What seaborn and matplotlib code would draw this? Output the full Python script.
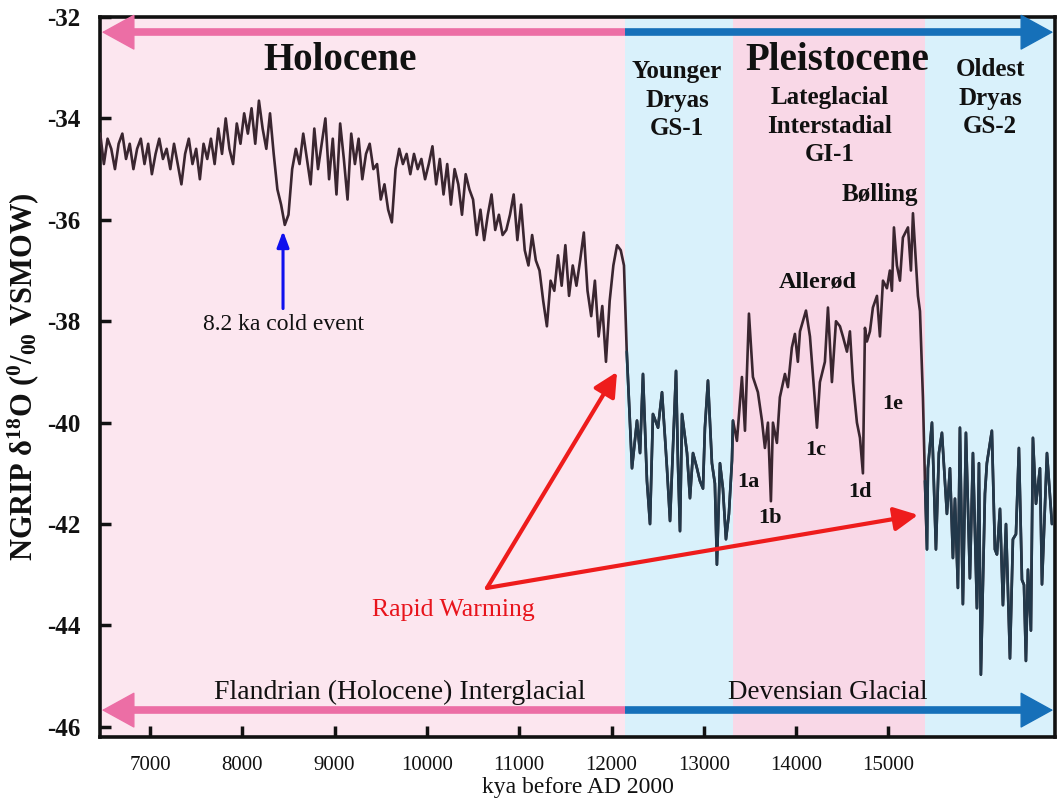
import numpy as np
import pandas as pd
import matplotlib
matplotlib.use("Agg")
import matplotlib.pyplot as plt
import seaborn as sns

# ---------------- data ----------------
holo_years = np.arange(6460, 12101, 40)
holo_vals = [
    -34.3, -34.9, -34.4, -34.6, -35.0, -34.5, -34.3, -34.8, -34.5, -35.0,
    -34.6, -34.4, -34.9, -34.5, -35.1, -34.7, -34.4, -34.8, -34.6, -35.0,
    -34.5, -34.9, -35.3, -34.7, -34.4, -34.9, -34.6, -35.2, -34.5, -34.8,
    -34.4, -34.9, -34.2, -34.7, -34.0, -34.6, -34.9, -34.1, -34.5, -33.9,
    -34.3, -33.8, -34.5, -33.65, -34.2, -34.6, -33.9, -34.7, -35.4, -35.7,
    -36.1, -35.9, -35.0, -34.6, -34.9, -34.3, -34.8, -35.3, -34.2, -35.0,
    -34.5, -34.0, -35.2, -34.4, -35.5, -34.1, -34.8, -35.6, -34.3, -34.9,
    -34.4, -35.2, -34.7, -34.5, -35.0, -34.9, -35.6, -35.3, -35.8, -36.05,
    -35.0, -34.6, -34.9, -34.7, -35.1, -34.7, -35.0, -34.8, -35.2, -34.9,
    -34.55, -35.3, -34.8, -35.5, -34.9, -35.7, -35.0, -35.3, -35.9, -35.1,
    -35.4, -35.6, -36.3, -35.8, -36.4, -35.9, -35.5, -36.2, -35.9, -36.3,
    -36.2, -35.9, -35.5, -36.4, -35.7, -36.6, -36.9, -36.3, -36.8, -37.0,
    -37.6, -38.1, -37.2, -37.4, -36.7, -37.3, -36.5, -37.5, -36.9, -37.3,
    -36.8, -36.25, -37.4, -37.9, -37.2, -38.3, -37.7, -38.8, -37.6, -36.9,
    -36.5, -36.6,
]

yd_years = [12135, 12165, 12195, 12222, 12276, 12309, 12341, 12384, 12417, 12449,
            12504, 12547, 12580, 12601, 12634, 12666, 12699, 12720, 12742, 12764,
            12818, 12850, 12883, 12926, 12958, 12991, 13012, 13045, 13088, 13120,
            13142, 13175, 13207, 13240, 13272, 13305]
yd_vals = [-36.9, -38.6, -39.8, -40.9, -39.96, -40.6, -39.04, -41.15, -42.0, -39.83,
           -40.1, -39.4, -40.3, -40.9, -41.94, -40.5, -38.98, -40.8, -42.14, -39.83,
           -40.6, -41.49, -40.6, -40.9, -41.15, -41.3, -40.1, -39.17, -40.8, -41.2,
           -42.8, -40.8, -41.3, -42.3, -41.8, -40.75]

gi1_years = [13316, 13359, 13413, 13446, 13489, 13532, 13586, 13630, 13662, 13695,
             13727, 13749, 13792, 13824, 13879, 13911, 13954, 13987, 14019, 14042,
             14107, 14150, 14226, 14258, 14312, 14345, 14388, 14432, 14475, 14507,
             14551, 14583, 14616, 14659, 14692, 14724, 14746, 14767, 14800, 14832,
             14876, 14908, 14941, 14984, 15016, 15038, 15060, 15092, 15125, 15157,
             15212, 15244, 15266, 15320, 15342, 15374, 15396]
gi1_vals = [-39.96, -40.36, -39.1, -40.16, -37.85, -39.1, -39.4, -39.96, -40.5, -40.0,
            -41.55, -40.0, -40.4, -39.5, -39.04, -39.3, -38.52, -38.25, -38.8, -38.2,
            -37.79, -38.3, -40.1, -39.2, -38.8, -37.73, -39.2, -38.0, -38.1, -38.3,
            -38.6, -38.2, -39.2, -40.0, -40.3, -41.0, -38.13, -38.4, -38.2, -37.73,
            -37.5, -38.3, -37.2, -37.35, -37.0, -37.4, -36.15, -36.9, -37.2, -36.35,
            -36.15, -37.0, -35.87, -37.5, -37.8, -39.5, -41.15]

gs2_years = [15418, 15428, 15472, 15515, 15547, 15580, 15634, 15667, 15699, 15721,
             15753, 15775, 15807, 15840, 15883, 15916, 15959, 15981, 16002, 16046,
             16067, 16121, 16154, 16176, 16209, 16241, 16274, 16317, 16349, 16382,
             16414, 16447, 16469, 16490, 16512, 16544, 16566, 16599, 16642, 16664,
             16718, 16772]
gs2_vals = [-42.5, -40.9, -40.0, -42.5, -40.6, -40.2, -41.8, -40.9, -42.67, -41.5,
            -43.26, -40.1, -43.58, -40.2, -43.07, -40.6, -43.66, -40.8, -44.97, -41.4,
            -40.8, -40.16, -42.5, -42.6, -41.7, -43.6, -42.0, -44.65, -42.3, -42.2,
            -40.5, -43.1, -43.2, -44.7, -42.9, -44.1, -40.3, -41.6, -40.9, -43.19,
            -40.6, -42.0]

period_bounds = [12146, 13316, 15396]
xticks = [7000, 8000, 9000, 10000, 11000, 12000, 13000, 14000, 15000]
yticks = [-46, -44, -42, -40, -38, -36, -34, -32]

# ---------------- style ----------------
sns.set_theme(style="white")
plt.rcParams['font.family'] = ['Liberation Serif', 'DejaVu Serif']
plt.rcParams['mathtext.fontset'] = 'custom'
plt.rcParams['mathtext.rm'] = 'Liberation Serif:bold'
plt.rcParams['mathtext.it'] = 'Liberation Serif:bold'
plt.rcParams['mathtext.bf'] = 'Liberation Serif:bold'

fig = plt.figure(figsize=(10.57, 8.02), dpi=100)
ax = fig.add_axes([100 / 1057, 65 / 802, 955 / 1057, 720 / 802])
XMIN, XMAX = 6458, 16805
ax.set_xlim(XMIN, XMAX)
ax.set_ylim(-46.2, -32)

pink1 = '#fce6ef'
pink2 = '#f9d8e7'
blue = '#d9f1fb'
ax.axvspan(XMIN, period_bounds[0], color=pink1, lw=0, zorder=0)
ax.axvspan(period_bounds[0], period_bounds[1], color=blue, lw=0, zorder=0)
ax.axvspan(period_bounds[1], period_bounds[2], color=pink2, lw=0, zorder=0)
ax.axvspan(period_bounds[2], XMAX, color=blue, lw=0, zorder=0)

all_years = np.concatenate([holo_years, yd_years, gi1_years, gs2_years])
all_vals = np.concatenate([holo_vals, yd_vals, gi1_vals, gs2_vals])
df = pd.DataFrame({'year': all_years, 'd18O': all_vals})
sns.lineplot(data=df, x='year', y='d18O', ax=ax, color='#3a2630', lw=1.9,
             estimator=None, sort=False, zorder=3)
df_yd = pd.DataFrame({'year': list(yd_years[1:]) + [gi1_years[0]],
                      'd18O': list(yd_vals[1:]) + [gi1_vals[0]]})
sns.lineplot(data=df_yd, x='year', y='d18O', ax=ax, color='#22384a', lw=1.9,
             estimator=None, sort=False, zorder=4)
df_gs = pd.DataFrame({'year': [gi1_years[-1]] + list(gs2_years),
                      'd18O': [gi1_vals[-1]] + list(gs2_vals)})
sns.lineplot(data=df_gs, x='year', y='d18O', ax=ax, color='#22384a', lw=1.9,
             estimator=None, sort=False, zorder=4)

# ---------------- period arrows ----------------
pink_arrow = '#ec6ea5'
blue_arrow = '#1670b9'
for y in (-32.3, -45.67):
    ax.plot([XMIN + 150, period_bounds[0]], [y, y], color=pink_arrow, lw=5.5,
            solid_capstyle='butt', zorder=5, clip_on=False)
    ax.plot([period_bounds[0], XMAX - 150], [y, y], color=blue_arrow, lw=5.5,
            solid_capstyle='butt', zorder=5, clip_on=False)
    ax.annotate('', xy=(XMIN + 20, y), xytext=(XMIN + 300, y),
                arrowprops=dict(arrowstyle='-|>,head_length=1.0,head_width=0.55',
                                color=pink_arrow, lw=1, mutation_scale=22,
                                shrinkA=0, shrinkB=0), zorder=6)
    ax.annotate('', xy=(XMAX - 20, y), xytext=(XMAX - 300, y),
                arrowprops=dict(arrowstyle='-|>,head_length=1.0,head_width=0.55',
                                color=blue_arrow, lw=1, mutation_scale=22,
                                shrinkA=0, shrinkB=0), zorder=6)

# ---------------- annotations ----------------
tk = dict(color='#111111', ha='center', va='center', zorder=7)
ax.text(9058, -32.85, 'Holocene', fontsize=28, fontweight='bold', **tk)
ax.text(14443, -32.85, 'Pleistocene', fontsize=28, fontweight='bold', **tk)
ax.text(12709, -33.64, 'Younger\nDryas\nGS-1', fontsize=18, fontweight='bold',
        linespacing=1.3, **tk)
ax.text(14367, -34.15, 'Lateglacial\nInterstadial\nGI-1', fontsize=18,
        fontweight='bold', linespacing=1.3, **tk)
ax.text(16101, -33.6, 'Oldest\nDryas\nGS-2', fontsize=18, fontweight='bold',
        linespacing=1.3, **tk)
ax.text(14909, -35.51, 'Bølling', fontsize=18, fontweight='bold', **tk)
ax.text(14237, -37.23, 'Allerød', fontsize=17.5, fontweight='bold', **tk)
for lab, x, y in [('1a', 13479, -41.17), ('1b', 13717, -41.88), ('1c', 14215, -40.54),
                  ('1d', 14692, -41.37), ('1e', 15050, -39.63)]:
    ax.text(x, y, lab, fontsize=16, fontweight='bold', **tk)

ax.text(8441, -38.07, '8.2 ka cold event', fontsize=17, color='#111111',
        ha='center', va='center', zorder=7)
ax.annotate('', xy=(8441, -36.22), xytext=(8441, -37.75),
            arrowprops=dict(arrowstyle='-|>,head_length=0.8,head_width=0.3',
                            color='#1010ee', lw=2.2, mutation_scale=12,
                            shrinkA=0, shrinkB=0), zorder=7)

ax.text(10283, -43.7, 'Rapid Warming', fontsize=18.5, color='#e8141c',
        ha='center', va='center', zorder=7)
for hx, hy in [(12060, -39.0), (15321, -41.82)]:
    ax.annotate('', xy=(hx, hy), xytext=(10651, -43.26),
                arrowprops=dict(arrowstyle='-|>,head_length=0.9,head_width=0.45',
                                color='#ee1c1c', lw=3, mutation_scale=16,
                                shrinkA=0, shrinkB=0), zorder=7)

ax.text(9709, -45.33, 'Flandrian (Holocene) Interglacial', fontsize=20,
        color='#111111', ha='center', va='center', zorder=7)
ax.text(14345, -45.33, 'Devensian Glacial', fontsize=19.5, color='#111111',
        ha='center', va='center', zorder=7)

# ---------------- axes ----------------
ax.set_xticks(xticks)
ax.set_xticklabels([str(t) for t in xticks], fontsize=15)
ax.set_yticks(yticks)
ax.set_yticklabels([str(t) for t in yticks], fontsize=18, fontweight='bold')
ax.tick_params(axis='both', direction='in', length=8, width=2.5, colors='#111111',
               bottom=True, left=True)
ax.tick_params(axis='x', pad=14, labelcolor='#111111')
ax.tick_params(axis='y', pad=14, labelcolor='#111111')
for sp in ax.spines.values():
    sp.set_linewidth(2.6)
    sp.set_color('#111111')
    sp.set_visible(True)

ax.set_xlabel('kya before AD 2000', fontsize=17, color='#111111', labelpad=1)
ax.set_ylabel(r'NGRIP δ$^{18}$O ($^{0}$/$_{00}$ VSMOW)', fontsize=22,
              fontweight='bold', color='#111111', labelpad=4)

fig.savefig('out.png', dpi=100)
